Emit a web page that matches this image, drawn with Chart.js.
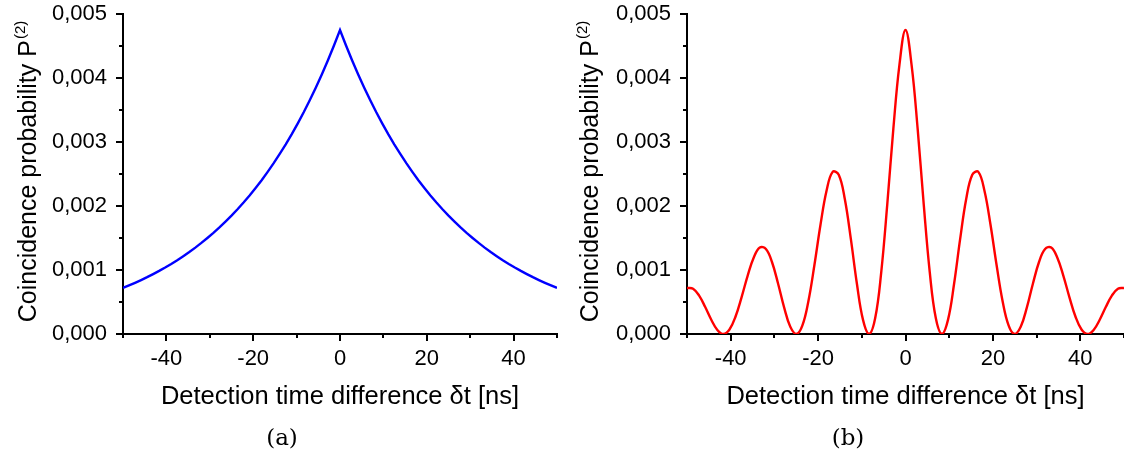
<!DOCTYPE html>
<html><head><meta charset="utf-8">
<script src="https://cdn.jsdelivr.net/npm/chart.js@4"></script>
<style>
html,body{margin:0;padding:0;background:#fff;}
#wrap{position:relative;width:1124px;height:460px;overflow:hidden;}
.c{position:absolute;top:0;width:562px;height:460px;}
#ca{left:0}
#cb{left:562px}
.cap{position:absolute;top:424px;font-family:"DejaVu Serif","Liberation Serif",serif;font-size:23px;line-height:27px;color:#000;transform:translateX(-50%);}
</style></head>
<body>
<div id="wrap">
  <div class="c" id="ca"><canvas id="a" width="562" height="460"></canvas></div>
  <div class="c" id="cb"><canvas id="b" width="562" height="460"></canvas></div>
  <div class="cap" style="left:282px">(a)</div>
  <div class="cap" style="left:848px">(b)</div>
</div>
<script>
// Detection time difference δt [ns]
const timeNs = [
  -50, -48.611, -47.222, -45.833, -44.444, -43.056, -41.667, -40.278, -38.889, -37.5,
  -36.111, -34.722, -33.333, -31.944, -30.556, -29.167, -27.778, -26.389, -25, -23.611,
  -22.222, -20.833, -19.444, -18.056, -16.667, -15.278, -13.889, -12.5, -11.111, -9.722,
  -8.333, -6.944, -5.556, -4.167, -2.778, -1.389, 0,
  1.389, 2.778, 4.167, 5.556, 6.944, 8.333, 9.722, 11.111, 12.5, 13.889,
  15.278, 16.667, 18.056, 19.444, 20.833, 22.222, 23.611, 25, 26.389, 27.778,
  29.167, 30.556, 31.944, 33.333, 34.722, 36.111, 37.5, 38.889, 40.278, 41.667,
  43.056, 44.444, 45.833, 47.222, 48.611, 50
];
// (a) coincidence probability, blue curve
const probA = [
  0.000720, 0.000759, 0.000800, 0.000843, 0.000888, 0.000936, 0.000986, 0.001039, 0.001095, 0.001154,
  0.001216, 0.001281, 0.001350, 0.001423, 0.001500, 0.001580, 0.001665, 0.001755, 0.001849, 0.001949,
  0.002054, 0.002164, 0.002281, 0.002403, 0.002533, 0.002669, 0.002813, 0.002964, 0.003123, 0.003291,
  0.003468, 0.003655, 0.003852, 0.004059, 0.004277, 0.004507, 0.004750,
  0.004507, 0.004277, 0.004059, 0.003852, 0.003655, 0.003468, 0.003291, 0.003123, 0.002964, 0.002813,
  0.002669, 0.002533, 0.002403, 0.002281, 0.002164, 0.002054, 0.001949, 0.001849, 0.001755, 0.001665,
  0.001580, 0.001500, 0.001423, 0.001350, 0.001281, 0.001216, 0.001154, 0.001095, 0.001039, 0.000986,
  0.000936, 0.000888, 0.000843, 0.000800, 0.000759, 0.000720
];
// (b) coincidence probability, red curve
const probB = [
  0.000720, 0.000708, 0.000600, 0.000421, 0.000222, 0.000063, 0, 0.000070, 0.000274, 0.000577,
  0.000912, 0.001196, 0.001350, 0.001328, 0.001125, 0.000790, 0.000416, 0.000118, 0, 0.000131,
  0.000513, 0.001082, 0.001711, 0.002242, 0.002533, 0.002490, 0.002109, 0.001482, 0.000781, 0.000221,
  0, 0.000245, 0.000963, 0.002030, 0.003208, 0.004206, 0.004750,
  0.004206, 0.003208, 0.002030, 0.000963, 0.000245, 0, 0.000221, 0.000781, 0.001482, 0.002109,
  0.002490, 0.002533, 0.002242, 0.001711, 0.001082, 0.000513, 0.000131, 0, 0.000118, 0.000416,
  0.000790, 0.001125, 0.001328, 0.001350, 0.001196, 0.000912, 0.000577, 0.000274, 0.000070, 0,
  0.000063, 0.000222, 0.000421, 0.000600, 0.000708, 0.000720
];
const xMajorTicks = [-40, -20, 0, 20, 40];
const xMinorTicks = [-50, -30, -10, 10, 30, 50];
const yMajorTicks = [0, 0.001, 0.002, 0.003, 0.004, 0.005];
const yMinorTicks = [0.0005, 0.0015, 0.0025, 0.0035, 0.0045];
const xTitle = 'Detection time difference \u03b4t [ns]';
const yTitleMain = 'Coincidence probability P';
const yTitleSup = '(2)';
const SANS = '"Liberation Sans", Arial, sans-serif';

const tickMarks = {
  id: 'tickMarks',
  afterDraw(chart) {
    const {ctx, scales: {x, y}, chartArea: a} = chart;
    ctx.save();
    ctx.strokeStyle = '#000';
    ctx.lineWidth = 2;
    const bx = Math.round(a.left), by = Math.round(a.bottom);
    const drawX = (vals, len) => vals.forEach(v => {
      const p = Math.round(x.getPixelForValue(v));
      ctx.beginPath(); ctx.moveTo(p, by); ctx.lineTo(p, by + len); ctx.stroke();
    });
    const drawY = (vals, len) => vals.forEach(v => {
      const p = Math.round(y.getPixelForValue(v));
      ctx.beginPath(); ctx.moveTo(bx, p); ctx.lineTo(bx - len, p); ctx.stroke();
    });
    drawX(xMajorTicks, 7); drawX(xMinorTicks, 4);
    drawY(yMajorTicks, 7); drawY(yMinorTicks, 4);

    // rotated y-axis title with superscript
    const fMain = '25px ' + SANS, fSup = '15px ' + SANS;
    ctx.fillStyle = '#000';
    ctx.font = fMain; const w1 = ctx.measureText(yTitleMain).width;
    ctx.font = fSup; const w2 = ctx.measureText(yTitleSup).width;
    const cy = (a.top + a.bottom) / 2 - 2;
    ctx.translate(36, cy);
    ctx.rotate(-Math.PI / 2);
    ctx.textBaseline = 'alphabetic';
    ctx.textAlign = 'left';
    const start = -(w1 + w2) / 2;
    ctx.font = fMain; ctx.fillText(yTitleMain, start, 0);
    ctx.font = fSup; ctx.fillText(yTitleSup, start + w1 + 1, -11);
    ctx.restore();
  }
};

function makeChart(id, values, color, yWidth, padRight) {
  const pts = timeNs.map((t, i) => ({x: t, y: values[i]}));
  return new Chart(document.getElementById(id), {
    type: 'line',
    data: {datasets: [{
      data: pts, borderColor: color, borderWidth: 2.4, pointRadius: 0,
      tension: color === '#ff0000' ? 0.4 : 0, fill: false
    }]},
    options: {
      responsive: false, animation: false, events: [],
      layout: {padding: {top: 14, right: padRight, bottom: 26, left: 0}},
      plugins: {legend: {display: false}, tooltip: {enabled: false}},
      scales: {
        x: {
          type: 'linear', min: -50, max: 50,
          afterBuildTicks: s => { s.ticks = xMajorTicks.map(v => ({value: v})); },
          afterFit: s => { s.height = 100; s.paddingLeft = 0; s.paddingRight = 0; },
          ticks: {color: '#000', font: {family: SANS, size: 22}, padding: 5, maxRotation: 0, autoSkip: false,
                  callback: v => String(v)},
          grid: {display: true, drawOnChartArea: false, drawTicks: true, tickLength: 7, color: 'rgba(0,0,0,0)'},
          border: {display: true, color: '#000', width: 2},
          title: {display: true, text: xTitle, color: '#000', font: {family: SANS, size: 25.5}, padding: {top: 0, bottom: 22}}
        },
        y: {
          type: 'linear', min: 0, max: 0.005,
          afterBuildTicks: s => { s.ticks = yMajorTicks.map(v => ({value: v})); },
          afterFit: s => { s.width = yWidth; s.paddingTop = 0; s.paddingBottom = 0; },
          ticks: {color: '#000', font: {family: SANS, size: 22}, padding: 9,
                  callback: v => v.toFixed(3).replace('.', ',')},
          grid: {display: true, drawOnChartArea: false, drawTicks: true, tickLength: 7, color: 'rgba(0,0,0,0)'},
          border: {display: true, color: '#000', width: 2},
          title: {display: false}
        }
      }
    },
    plugins: [tickMarks]
  });
}
makeChart('a', probA, '#0000ff', 123, 5);
makeChart('b', probB, '#ff0000', 125, 0);
</script>
</body></html>
